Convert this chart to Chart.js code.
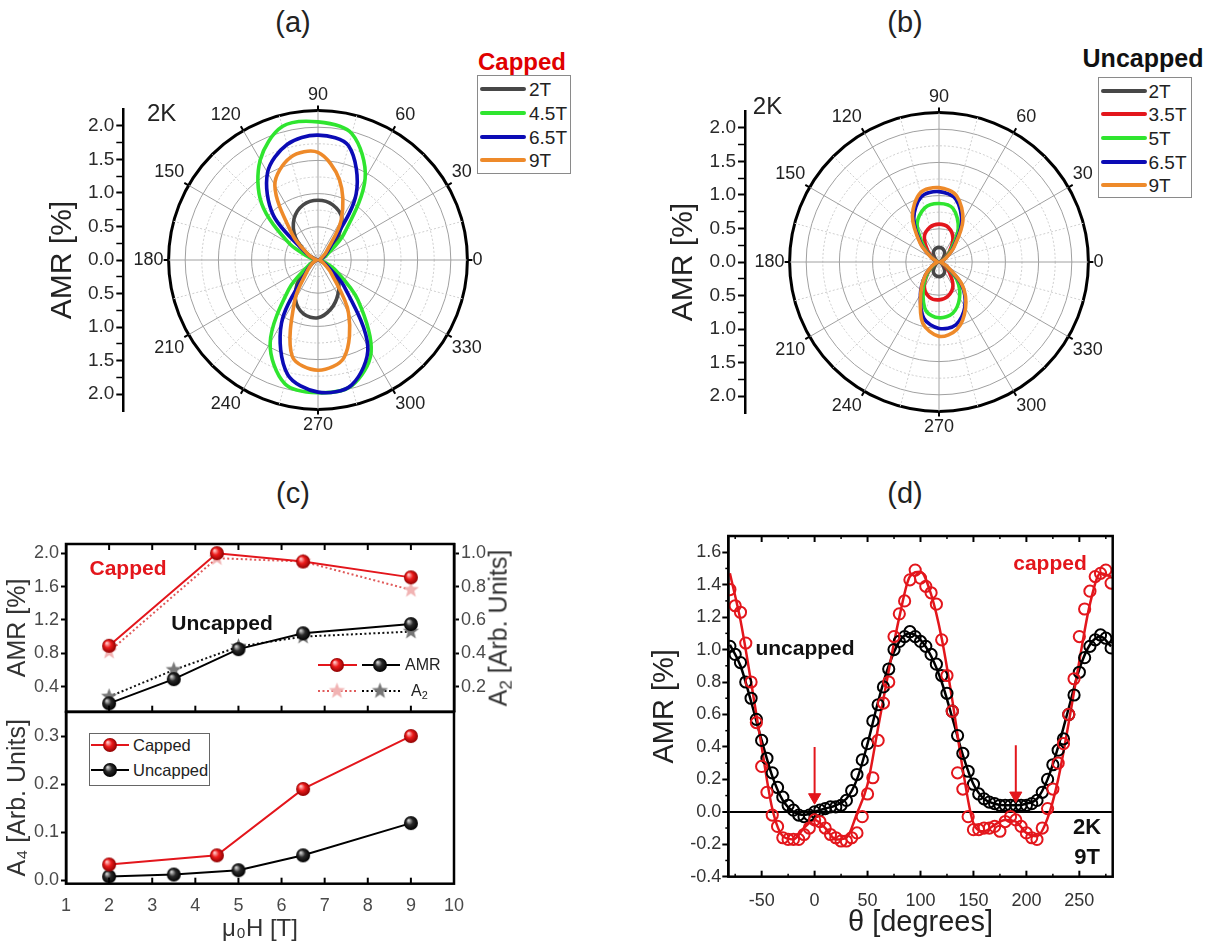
<!DOCTYPE html>
<html><head><meta charset="utf-8">
<script src="https://cdn.jsdelivr.net/npm/chart.js@4.4.1/dist/chart.umd.min.js"></script>
<style>
body{margin:0;background:#fff;}
#wrap{position:relative;width:1217px;height:947px;overflow:hidden;background:#fff;font-family:Arial,"Liberation Sans",sans-serif;color:#222;}
canvas.c{position:absolute;}
.t{position:absolute;white-space:nowrap;transform:translate(-50%,-50%);line-height:1;}
.lt{position:absolute;white-space:nowrap;transform:translateY(-50%);line-height:1;}
.leg{position:absolute;background:#fff;border:1px solid #8a8a8a;box-sizing:border-box;}
.sub{font-size:0.68em;vertical-align:-0.28em;}
</style></head><body><div id="wrap"></div>
<script>
// ================= DATA =================
// polar panels (a), (b): AMR [%] at angle (degrees)
const polarAngles = [0,15,30,45,60,75,90,105,120,135,150,165,180,195,210,225,240,255,270,285,300,315,330,345];
const cappedNames = ['2T','4.5T','6.5T','9T'];
const capped2T  = [0.02,0.04,0.12,0.38,0.72,0.86,0.90,0.86,0.72,0.48,0.18,0.05, 0.02,0.04,0.12,0.40,0.68,0.84,0.87,0.76,0.60,0.42,0.14,0.04];
const capped45T = [0.03,0.05,0.15,0.55,1.42,1.97,2.08,2.08,1.74,1.20,0.50,0.12, 0.03,0.06,0.16,0.62,1.44,1.93,2.00,1.96,1.60,0.85,0.30,0.08];
const capped65T = [0.02,0.04,0.10,0.24,1.15,1.78,1.88,1.80,1.52,0.95,0.20,0.06, 0.02,0.05,0.10,0.25,1.10,1.78,1.99,1.95,1.50,0.55,0.14,0.05];
const capped9T  = [0.02,0.03,0.06,0.18,0.70,1.25,1.62,1.60,1.30,0.55,0.18,0.05, 0.02,0.04,0.10,0.22,0.70,1.50,1.66,1.52,0.92,0.28,0.10,0.04];
const uncappedNames = ['2T','3.5T','5T','6.5T','9T'];
const uncapped2T  = [0.01,0.02,0.05,0.10,0.17,0.21,0.22,0.21,0.17,0.10,0.05,0.02, 0.01,0.02,0.05,0.10,0.17,0.21,0.22,0.21,0.17,0.10,0.05,0.02];
const uncapped35T = [0.01,0.03,0.08,0.22,0.42,0.54,0.57,0.54,0.44,0.24,0.08,0.03, 0.01,0.03,0.09,0.24,0.44,0.55,0.57,0.53,0.42,0.22,0.08,0.03];
const uncapped5T  = [0.02,0.03,0.09,0.25,0.58,0.83,0.88,0.84,0.66,0.32,0.10,0.03, 0.02,0.03,0.09,0.25,0.48,0.76,0.84,0.80,0.62,0.38,0.11,0.03];
const uncapped65T = [0.02,0.04,0.11,0.30,0.68,0.98,1.06,1.02,0.76,0.38,0.12,0.04, 0.02,0.04,0.11,0.30,0.56,0.88,1.00,0.98,0.78,0.48,0.14,0.04];
const uncapped9T  = [0.02,0.04,0.12,0.32,0.72,1.03,1.12,1.08,0.80,0.40,0.13,0.04, 0.02,0.04,0.12,0.30,0.55,0.95,1.12,1.05,0.80,0.50,0.15,0.04];
const radialAxisTicks = [-2,-1.75,-1.5,-1.25,-1,-0.75,-0.5,-0.25,0,0.25,0.5,0.75,1,1.25,1.5,1.75,2];

// panel (c)
const fieldCapped = [2,4.5,6.5,9];
const amrCapped = [0.89,2.0,1.90,1.71];
const a2Capped = [0.41,0.97,0.95,0.78];
const fieldUncapped = [2,3.5,5,6.5,9];
const amrUncapped = [0.20,0.49,0.85,1.04,1.15];
const a2Uncapped = [0.14,0.30,0.44,0.50,0.53];
const a4Capped = [0.033,0.052,0.19,0.30];
const a4Uncapped = [0.008,0.012,0.021,0.052,0.119];
const fieldTicks = [1,2,3,4,5,6,7,8,9,10];
const amrTicks = [0.4,0.8,1.2,1.6,2.0];
const a2Ticks = [0.2,0.4,0.6,0.8,1.0];
const a4Ticks = [0,0.1,0.2,0.3];

// panel (d)
const thetaData = [-80,-75,-70,-65,-60,-55,-50,-45,-40,-35,-30,-25,-20,-15,-10,-5,0,5,10,15,20,25,30,35,40,45,50,55,60,65,70,75,80,85,90,95,100,105,110,115,120,125,130,135,140,145,150,155,160,165,170,175,180,185,190,195,200,205,210,215,220,225,230,235,240,245,250,255,260,265,270,275,280];
const amrUncappedD = [1.02,0.97,0.92,0.80,0.70,0.57,0.44,0.33,0.24,0.15,
  0.09,0.04,0.01,-0.02,-0.03,-0.02,0.00,0.01,0.02,0.03,
  0.03,0.04,0.07,0.13,0.23,0.32,0.42,0.56,0.66,0.77,
  0.88,1.00,1.05,1.08,1.11,1.08,1.05,1.02,0.97,0.91,
  0.84,0.73,0.62,0.47,0.36,0.25,0.17,0.11,0.08,0.06,
  0.05,0.04,0.04,0.04,0.04,0.04,0.04,0.05,0.07,0.12,
  0.20,0.29,0.38,0.45,0.60,0.72,0.86,0.95,1.02,1.06,
  1.09,1.07,1.01];
const amrCappedD = [1.37,1.27,1.23,1.04,0.80,0.55,0.28,0.12,-0.02,-0.09,
  -0.16,-0.17,-0.17,-0.17,-0.14,-0.10,-0.05,-0.06,-0.10,-0.14,
  -0.16,-0.18,-0.18,-0.16,-0.13,-0.03,0.11,0.21,0.44,0.67,
  0.80,1.08,1.22,1.30,1.43,1.49,1.44,1.39,1.35,1.28,
  1.06,0.84,0.62,0.24,0.14,-0.03,-0.11,-0.11,-0.10,-0.10,
  -0.09,-0.12,-0.06,-0.03,-0.05,-0.09,-0.13,-0.16,-0.17,-0.10,
  0.02,0.14,0.30,0.42,0.60,0.82,1.08,1.25,1.36,1.45,
  1.47,1.49,1.41];
const thetaFit = [-80,-70,-60,-50,-40,-30,-20,-10,0,10,20,30,40,50,60,70,80,90,100,110,120,130,140,150,160,170,180,190,200,210,220,230,240,250,260,270,280];
const fitCappedD = [1.47,1.18,0.80,0.40,0.02,-0.15,-0.17,-0.10,-0.05,-0.10,-0.17,-0.16,-0.01,0.17,0.52,0.87,1.20,1.45,1.48,1.34,1.07,0.69,0.26,-0.07,-0.12,-0.08,-0.05,-0.06,-0.13,-0.15,-0.04,0.20,0.55,0.93,1.28,1.47,1.45];
const fitUncappedD = [1.03,0.90,0.68,0.44,0.22,0.07,0.00,-0.02,0.00,0.02,0.04,0.08,0.20,0.42,0.68,0.90,1.05,1.10,1.06,0.96,0.80,0.58,0.35,0.17,0.08,0.05,0.04,0.04,0.05,0.08,0.20,0.40,0.64,0.88,1.03,1.08,1.02];
const arrowTheta = [0,190];
const arrowTop = [0.40,0.41];
const arrowHead = [0.09,0.10];
const thetaTicks = [-50,0,50,100,150,200,250];
const thetaMinor = [-75,-25,25,75,125,175,225,275];
const amrTicksD = [-0.4,-0.2,0,0.2,0.4,0.6,0.8,1.0,1.2,1.4,1.6];
const amrMinorD = [-0.3,-0.1,0.1,0.3,0.5,0.7,0.9,1.1,1.3,1.5];

// ================= HELPERS =================
const FONT = 'Arial, "Liberation Sans", sans-serif';
Chart.defaults.font.family = FONT;
Chart.defaults.color = '#222';
const wrap = document.getElementById('wrap');
const RED = '#e3161c';

function mkCanvas(left, top, w, h) {
  const c = document.createElement('canvas');
  c.className = 'c'; c.width = w; c.height = h;
  c.style.left = left + 'px'; c.style.top = top + 'px';
  c.style.width = w + 'px'; c.style.height = h + 'px';
  wrap.appendChild(c);
  return c;
}
function txt(s, x, y, size, extra, cls) {
  const d = document.createElement('div');
  d.className = cls || 't'; d.textContent = s;
  d.style.left = x + 'px'; d.style.top = y + 'px'; d.style.fontSize = size + 'px';
  Object.assign(d.style, extra || {});
  wrap.appendChild(d); return d;
}
function sphere(r, light, base, dark) {
  const c = document.createElement('canvas');
  const s = Math.ceil(r * 2 + 2); c.width = c.height = s;
  const g = c.getContext('2d');
  const gr = g.createRadialGradient(s/2 - r*0.35, s/2 - r*0.4, r*0.08, s/2, s/2, r);
  gr.addColorStop(0, light); gr.addColorStop(0.45, base); gr.addColorStop(1, dark);
  g.fillStyle = gr; g.beginPath(); g.arc(s/2, s/2, r, 0, Math.PI*2); g.fill();
  return c;
}
function star(R, color) {
  const c = document.createElement('canvas');
  const s = Math.ceil(R * 2 + 2); c.width = c.height = s;
  const g = c.getContext('2d');
  g.fillStyle = color; g.beginPath();
  for (let k = 0; k < 10; k++) {
    const rr = k % 2 ? R * 0.42 : R;
    const a = -Math.PI/2 + k * Math.PI / 5;
    const x = s/2 + rr*Math.cos(a), y = s/2 + rr*Math.sin(a);
    k ? g.lineTo(x, y) : g.moveTo(x, y);
  }
  g.closePath(); g.fill();
  return c;
}
const sphereRed = sphere(7, '#ffc4c4', '#ec1b1b', '#8e0000');
const sphereBlack = sphere(7, '#d0d0d0', '#2a2a2a', '#000000');
const starPink = star(8.5, '#f1b3b3');
const starGray = star(8.5, '#777777');

function makeFrame(marks) {
  return {
    id: 'frameTicks',
    afterDatasetsDraw(chart) {
      const {ctx, chartArea: a} = chart;
      ctx.save();
      ctx.strokeStyle = '#000';
      marks.forEach(m => {
        const s = chart.scales[m.scale];
        ctx.lineWidth = m.w;
        m.values.forEach(v => {
          const p = s.getPixelForValue(v);
          ctx.beginPath();
          if (m.edge === 'bottom') { ctx.moveTo(p, a.bottom); ctx.lineTo(p, a.bottom - m.len); }
          else if (m.edge === 'top') { ctx.moveTo(p, a.top); ctx.lineTo(p, a.top + m.len); }
          else if (m.edge === 'left') { ctx.moveTo(a.left, p); ctx.lineTo(a.left + m.len, p); }
          else if (m.edge === 'right') { ctx.moveTo(a.right, p); ctx.lineTo(a.right - m.len, p); }
          ctx.stroke();
        });
      });
      ctx.lineWidth = 2.5;
      ctx.strokeRect(a.left, a.top, a.right - a.left, a.bottom - a.top);
      ctx.restore();
    }
  };
}
const fixedTicks = list => scale => { scale.ticks = list.map(v => ({value: v})); };

// ================= POLAR PANELS =================
function radarOrder(arr) { const n = arr.length; return arr.map((_, i) => arr[(n - i) % n]); }
const radarAngles = radarOrder(polarAngles);
const isMajorR = v => Math.abs(v * 2 - Math.round(v * 2)) < 1e-6;

const outerTicks = {
  id: 'outerTicks',
  afterDraw(chart) {
    const s = chart.scales.r, ctx = chart.ctx, R = s.drawingArea;
    ctx.save(); ctx.strokeStyle = '#000'; ctx.lineWidth = 2;
    radarAngles.forEach((a, i) => {
      if (a % 30 !== 0) return;
      const p1 = s.getPointPosition(i, R), p2 = s.getPointPosition(i, R + 5);
      ctx.beginPath(); ctx.moveTo(p1.x, p1.y); ctx.lineTo(p2.x, p2.y); ctx.stroke();
    });
    ctx.restore();
  }
};

function radarChart(canvas, names, series, colors) {
  return new Chart(canvas, {
    type: 'radar',
    data: {
      labels: radarAngles.map(String),
      datasets: series.map((s, k) => ({
        label: names[k], data: radarOrder(s), borderColor: colors[k],
        backgroundColor: 'rgba(0,0,0,0)', borderWidth: 3.6, pointRadius: 0,
        fill: false, tension: 0.33, order: series.length - k
      }))
    },
    options: {
      responsive: false, animation: false,
      plugins: { legend: {display: false}, tooltip: {enabled: false} },
      scales: { r: {
        min: 0, max: 2.25, startAngle: 90, beginAtZero: true,
        ticks: { display: false, stepSize: 0.25 },
        grid: {
          circular: true,
          color: c => { const v = c.tick ? c.tick.value : 0; return v > 2.24 ? '#000' : (isMajorR(v) ? '#a0a0a0' : '#cbcbcb'); },
          lineWidth: c => { const v = c.tick ? c.tick.value : 0; return v > 2.24 ? 3 : 1; }
        },
        border: { dash: c => { const v = c.tick ? c.tick.value : 0; return (v > 2.24 || isMajorR(v)) ? [] : [2, 2]; } },
        angleLines: {
          color: c => (radarAngles[c.index] % 30 === 0 ? '#a0a0a0' : '#cfcfcf'),
          lineWidth: 1,
          borderDash: c => (radarAngles[c.index] % 30 === 0 ? [] : [2, 2])
        },
        pointLabels: {
          font: {size: 18}, color: '#222', padding: 5,
          callback: l => (Number(l) % 30 === 0 ? l : '')
        }
      } }
    },
    plugins: [outerTicks]
  });
}

function polarAxis(canvas, padLeft, axisWidth) {
  return new Chart(canvas, {
    type: 'line',
    data: { datasets: [] },
    options: {
      responsive: false, animation: false,
      layout: { padding: { left: padLeft, top: 14, bottom: 14, right: 0 } },
      plugins: { legend: {display: false}, tooltip: {enabled: false} },
      scales: {
        x: { type: 'linear', display: false, min: 0, max: 1 },
        y: {
          type: 'linear', min: -2.25, max: 2.25,
          afterBuildTicks: fixedTicks(radialAxisTicks),
          afterFit: s => { s.width = axisWidth; },
          ticks: { autoSkip: false, font: {size: 19}, color: '#2a2a2a', padding: 2,
            callback: v => (Math.round(v * 4) % 2 === 0 ? Math.abs(v).toFixed(1) : '') },
          grid: { drawOnChartArea: false, tickLength: 7, tickColor: '#000',
            tickWidth: c => (c.tick && Math.round(c.tick.value * 4) % 2 === 0 ? 2 : 1.5) },
          border: { color: '#000', width: 2.5 },
          title: { display: true, text: 'AMR [%]', font: {size: 30}, color: '#222', padding: 0 }
        }
      }
    }
  });
}

// (a)
polarAxis(mkCanvas(40, 95, 100, 330), 5, 78.3);
radarChart(mkCanvas(108, 84, 420, 353), cappedNames,
  [capped2T, capped45T, capped65T, capped9T],
  ['#474747', '#2fe52f', '#0b0bb5', '#ee8a2a']);
// (b)
polarAxis(mkCanvas(661, 97, 100, 330), 5, 79);
radarChart(mkCanvas(729, 86, 420, 353), uncappedNames,
  [uncapped2T, uncapped35T, uncapped5T, uncapped65T, uncapped9T],
  ['#474747', '#e3161c', '#2fe52f', '#0b0bb5', '#ee8a2a']);

// ================= PANEL (c) =================
const cTick = { font: {size: 18, lineHeight: 1.2}, color: '#4a4a4a', padding: 2 };
const cGrid = { drawOnChartArea: false, tickLength: 5, tickColor: '#000', tickWidth: 2 };
const cBorder = { color: '#000', width: 2.5 };
const pts = (xs, ys) => xs.map((x, i) => ({x, y: ys[i]}));

new Chart(mkCanvas(0, 530, 540, 196), {
  type: 'line',
  data: { datasets: [
    { label: 'A2 capped', data: pts(fieldCapped, a2Capped), yAxisID: 'yR', borderColor: '#e05a5a', borderDash: [2, 2.5], borderWidth: 2, pointStyle: starPink, order: 2 },
    { label: 'A2 uncapped', data: pts(fieldUncapped, a2Uncapped), yAxisID: 'yR', borderColor: '#111', borderDash: [2, 2.5], borderWidth: 2, pointStyle: starGray, order: 2 },
    { label: 'AMR capped', data: pts(fieldCapped, amrCapped), yAxisID: 'yL', borderColor: RED, borderWidth: 2, pointStyle: sphereRed, order: 1 },
    { label: 'AMR uncapped', data: pts(fieldUncapped, amrUncapped), yAxisID: 'yL', borderColor: '#000', borderWidth: 2, pointStyle: sphereBlack, order: 1 }
  ]},
  options: {
    responsive: false, animation: false,
    layout: { padding: { left: 3, right: 25, top: 14, bottom: 14.3 } },
    plugins: { legend: {display: false}, tooltip: {enabled: false} },
    scales: {
      x: { type: 'linear', min: 1, max: 10, display: false, afterBuildTicks: fixedTicks(fieldTicks) },
      yL: { position: 'left', min: 0.1, max: 2.11, afterBuildTicks: fixedTicks(amrTicks), afterFit: s => { s.width = 63; },
        ticks: Object.assign({}, cTick, {callback: v => v.toFixed(1)}), grid: cGrid, border: cBorder,
        title: { display: true, text: 'AMR [%]', font: {size: 25}, color: '#333', padding: 0 } },
      yR: { position: 'right', min: 0.05, max: 1.055, afterBuildTicks: fixedTicks(a2Ticks), afterFit: s => { s.width = 61; },
        ticks: Object.assign({}, cTick, {callback: v => v.toFixed(1)}), grid: cGrid, border: cBorder,
        title: { display: false } }
    }
  },
  plugins: [makeFrame([
    {scale: 'x', edge: 'bottom', values: fieldTicks, len: 6, w: 2},
    {scale: 'x', edge: 'top', values: fieldTicks, len: 6, w: 2}
  ])]
});

new Chart(mkCanvas(0, 697.7, 540, 246), {
  type: 'line',
  data: { datasets: [
    { label: 'Capped', data: pts(fieldCapped, a4Capped), borderColor: RED, borderWidth: 2, pointStyle: sphereRed },
    { label: 'Uncapped', data: pts(fieldUncapped, a4Uncapped), borderColor: '#000', borderWidth: 2, pointStyle: sphereBlack }
  ]},
  options: {
    responsive: false, animation: false,
    layout: { padding: { left: 3, right: 86, top: 14, bottom: 0.3 } },
    plugins: { legend: {display: false}, tooltip: {enabled: false} },
    scales: {
      x: { type: 'linear', min: 1, max: 10, afterBuildTicks: fixedTicks(fieldTicks), afterFit: s => { s.height = 60; },
        ticks: { font: {size: 18}, color: '#4a4a4a', padding: 4, autoSkip: false },
        grid: { display: false }, border: { display: false },
        title: { display: true, text: 'μ₀H [T]', font: {size: 24}, color: '#333', padding: 0 } },
      y: { position: 'left', min: -0.007, max: 0.35, afterBuildTicks: fixedTicks(a4Ticks), afterFit: s => { s.width = 63; },
        ticks: Object.assign({}, cTick, {callback: v => v.toFixed(1)}), grid: cGrid, border: cBorder,
        title: { display: true, text: 'A₄ [Arb. Units]', font: {size: 25}, color: '#333', padding: 0 } }
    }
  },
  plugins: [makeFrame([
    {scale: 'x', edge: 'bottom', values: fieldTicks, len: 6, w: 2}
  ])]
});

// ================= PANEL (d) =================
new Chart(mkCanvas(640, 522, 577, 419), {
  type: 'scatter',
  data: { datasets: [
    { label: 'capped fit', data: pts(thetaFit, fitCappedD), showLine: true, pointRadius: 0, borderColor: RED, borderWidth: 2.5, cubicInterpolationMode: 'monotone', order: 3 },
    { label: 'uncapped fit', data: pts(thetaFit, fitUncappedD), showLine: true, pointRadius: 0, borderColor: '#000', borderWidth: 2.5, cubicInterpolationMode: 'monotone', order: 3 },
    { label: 'uncapped', data: pts(thetaData, amrUncappedD), showLine: false, pointRadius: 5.6, pointBorderWidth: 2, pointBorderColor: '#000', pointBackgroundColor: 'rgba(0,0,0,0)', order: 2 },
    { label: 'capped', data: pts(thetaData, amrCappedD), showLine: false, pointRadius: 5.6, pointBorderWidth: 2, pointBorderColor: RED, pointBackgroundColor: 'rgba(0,0,0,0)', order: 1 },
    ...arrowTheta.map((t, i) => ({ label: 'arrow' + i, data: [{x: t, y: arrowTop[i]}, {x: t, y: arrowHead[i]}], showLine: true,
      borderColor: RED, borderWidth: 2, pointRadius: [0, 7], pointStyle: 'triangle', pointRotation: 180,
      pointBackgroundColor: RED, pointBorderColor: RED, pointBorderWidth: 1, order: 0 }))
  ]},
  options: {
    responsive: false, animation: false,
    layout: { padding: { left: 7.6, right: 104.3, top: 14, bottom: 0.6 } },
    plugins: { legend: {display: false}, tooltip: {enabled: false} },
    scales: {
      x: { type: 'linear', min: -81.5, max: 281.5, afterBuildTicks: fixedTicks(thetaTicks), afterFit: s => { s.height = 63.7; },
        ticks: { font: {size: 18}, color: '#333', padding: 5.5, autoSkip: false },
        grid: { display: false }, border: { display: false },
        title: { display: true, text: 'θ [degrees]', font: {size: 29}, color: '#222', padding: 0 } },
      y: { type: 'linear', min: -0.4, max: 1.7, afterBuildTicks: fixedTicks(amrTicksD), afterFit: s => { s.width = 80.7; },
        ticks: { font: {size: 18}, color: '#333', padding: 1, autoSkip: false, callback: v => v.toFixed(1) },
        grid: { drawOnChartArea: true, tickLength: 6, tickColor: '#000', tickWidth: 2,
          color: c => (c.tick && Math.abs(c.tick.value) < 1e-9 ? '#000' : 'rgba(0,0,0,0)'),
          lineWidth: c => (c.tick && Math.abs(c.tick.value) < 1e-9 ? 2 : 1) },
        border: { color: '#000', width: 2.5 },
        title: { display: true, text: 'AMR [%]', font: {size: 29}, color: '#222', padding: 0 } }
    }
  },
  plugins: [makeFrame([
    {scale: 'x', edge: 'bottom', values: thetaTicks, len: 6, w: 2},
    {scale: 'x', edge: 'bottom', values: thetaMinor, len: 3, w: 1.5},
    {scale: 'x', edge: 'top', values: thetaTicks, len: 6, w: 2},
    {scale: 'x', edge: 'top', values: thetaMinor, len: 3, w: 1.5},
    {scale: 'y', edge: 'left', values: amrMinorD, len: -3, w: 1.5}
  ])]
});

// ================= TEXT & LEGENDS =================
txt('(a)', 293, 22, 29);
txt('(b)', 905, 22, 29);
txt('(c)', 293, 493, 29);
txt('(d)', 905, 493, 29);
txt('2K', 161.7, 112.5, 24);
txt('2K', 767.5, 105.7, 24);
txt('Capped', 522, 62, 24, {color: '#e00000', fontWeight: 'bold'});
txt('Uncapped', 1143, 58, 25, {fontWeight: 'bold', color: '#111'});

// right-hand axis title of (c), reading bottom-to-top like the reference
const a2Title = document.createElement('div');
a2Title.className = 't';
a2Title.innerHTML = 'A<span class="sub">2</span> [Arb. Units]';
Object.assign(a2Title.style, {left: '500px', top: '628px', fontSize: '25px', color: '#333', transform: 'translate(-50%,-50%) rotate(-90deg)'});
wrap.appendChild(a2Title);

function lineLegend(x, y, w, h, rows, lx0, lx1, tx) {
  const box = document.createElement('div'); box.className = 'leg';
  Object.assign(box.style, {left: x + 'px', top: y + 'px', width: w + 'px', height: h + 'px'});
  rows.forEach(r => {
    const ln = document.createElement('div');
    Object.assign(ln.style, {position: 'absolute', left: lx0 + 'px', width: (lx1 - lx0) + 'px', top: (r.y - 2) + 'px', height: '4px', background: r.color, borderRadius: '2px'});
    box.appendChild(ln);
    const t = document.createElement('div'); t.className = 'lt'; t.textContent = r.text;
    Object.assign(t.style, {left: tx + 'px', top: r.y + 'px', fontSize: '19px', color: '#222'});
    box.appendChild(t);
  });
  wrap.appendChild(box);
}
lineLegend(477, 75, 94, 99, [
  {y: 13, text: cappedNames[0], color: '#474747'},
  {y: 36.5, text: cappedNames[1], color: '#2fe52f'},
  {y: 60.5, text: cappedNames[2], color: '#0b0bb5'},
  {y: 84, text: cappedNames[3], color: '#ee8a2a'}
], 2, 48, 51);
lineLegend(1097.5, 76.5, 94, 121, [
  {y: 13, text: uncappedNames[0], color: '#474747'},
  {y: 36.5, text: uncappedNames[1], color: '#e3161c'},
  {y: 60.5, text: uncappedNames[2], color: '#2fe52f'},
  {y: 84, text: uncappedNames[3], color: '#0b0bb5'},
  {y: 107.5, text: uncappedNames[4], color: '#ee8a2a'}
], 2, 48, 50);

function symCanvas(x, y, w, h, parts) {
  const c = document.createElement('canvas'); c.className = 'c';
  c.width = w; c.height = h; c.style.left = x + 'px'; c.style.top = y + 'px';
  const g = c.getContext('2d');
  parts.forEach(p => {
    g.strokeStyle = p.color; g.lineWidth = 2; g.setLineDash(p.dash || []);
    g.beginPath(); g.moveTo(p.x0, h/2); g.lineTo(p.x1, h/2); g.stroke(); g.setLineDash([]);
    if (p.img) g.drawImage(p.img, p.cx - p.img.width/2, h/2 - p.img.height/2);
  });
  return c;
}
// (c) upper legend
wrap.appendChild(symCanvas(316, 656, 86, 18, [
  {x0: 2, x1: 41, color: RED, img: sphereRed, cx: 21},
  {x0: 46, x1: 84, color: '#000', img: sphereBlack, cx: 64}
]));
txt('AMR', 405, 665, 16, {color: '#222'}, 'lt');
wrap.appendChild(symCanvas(316, 681, 86, 20, [
  {x0: 2, x1: 41, color: '#e05a5a', dash: [2, 2.5], img: starPink, cx: 21},
  {x0: 46, x1: 84, color: '#000', dash: [2, 2.5], img: starGray, cx: 64}
]));
const a2Leg = txt('', 411, 692, 16, {color: '#222'}, 'lt');
a2Leg.innerHTML = 'A<span class="sub">2</span>';
txt('Capped', 128, 567, 21, {color: RED, fontWeight: 'bold'});
txt('Uncapped', 222, 622, 21, {color: '#111', fontWeight: 'bold'});

// (c) lower legend
const lowBox = document.createElement('div'); lowBox.className = 'leg';
Object.assign(lowBox.style, {left: '89px', top: '733px', width: '121px', height: '53px', borderColor: '#666'});
wrap.appendChild(lowBox);
wrap.appendChild(symCanvas(90, 736, 40, 18, [{x0: 1, x1: 39, color: RED, img: sphereRed, cx: 20}]));
wrap.appendChild(symCanvas(90, 761, 40, 18, [{x0: 1, x1: 39, color: '#000', img: sphereBlack, cx: 20}]));
txt('Capped', 133, 745, 16.5, {color: '#222'}, 'lt');
txt('Uncapped', 133, 770, 16.5, {color: '#222'}, 'lt');

// (d) annotations
txt('capped', 1050, 562, 21, {color: RED, fontWeight: 'bold'});
txt('uncapped', 805, 647, 21, {color: '#111', fontWeight: 'bold'});
txt('2K', 1087, 827, 22, {color: '#111', fontWeight: 'bold'});
txt('9T', 1087, 857, 22, {color: '#111', fontWeight: 'bold'});
</script></body></html>
